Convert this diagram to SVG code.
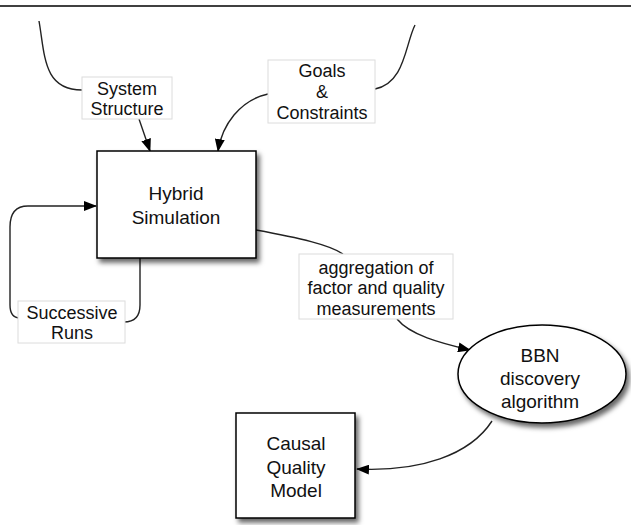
<svg xmlns="http://www.w3.org/2000/svg" width="631" height="525" viewBox="0 0 631 525">
<style>
.node{fill:#fff;stroke:#000;stroke-width:1.5;filter:url(#sh)}
.lbl{fill:#fff;stroke:#dcdcdc;stroke-width:1}
.conn{fill:none;stroke:#222;stroke-width:1.4}
.t{font-family:"Liberation Sans",Arial,sans-serif;font-size:19px;fill:#111;text-anchor:middle}
.tl{font-family:"Liberation Sans",Arial,sans-serif;font-size:18px;fill:#111;text-anchor:middle}
</style>
<defs>
<filter id="sh" x="-20%" y="-20%" width="150%" height="150%">
<feDropShadow dx="3" dy="4" stdDeviation="2.5" flood-color="#000" flood-opacity="0.6"/>
</filter>
<marker id="arr" markerWidth="13" markerHeight="10" refX="12" refY="5" orient="auto" markerUnits="userSpaceOnUse">
<path d="M0,0 L13,5 L0,10 z" fill="#000"/>
</marker>
</defs>
<line x1="0" y1="6" x2="631" y2="6" stroke="#000" stroke-width="1.5"/>
<g id="connectors">
<path class="conn" d="M39,21 C45,55 43,90 82,90"/>
<path class="conn" d="M375,89 C405,83 405,45 415,25"/>
<path class="conn" d="M139,119 L150,151" marker-end="url(#arr)"/>
<path class="conn" d="M268,94 C240,100 222,125 218,151" marker-end="url(#arr)"/>
<path class="conn" d="M140,258 L140,305 Q140,322 124,322 L70,320 L20,318 Q10,318 10,305 L10,227 Q10,206 28,206 L96,206" marker-end="url(#arr)"/>
<path class="conn" d="M256,230 C300,238 330,245 343,254"/>
<path class="conn" d="M397,319 C410,335 440,343 470,350" marker-end="url(#arr)"/>
<path class="conn" d="M492,421 C470,455 420,472 357,469" marker-end="url(#arr)"/>
</g>
<g id="system-structure">
<rect class="lbl" x="82" y="77" width="90" height="42"/>
<text class="tl" x="127" y="94.5">System</text>
<text class="tl" x="127" y="115">Structure</text>
</g>
<g id="goals-constraints">
<rect class="lbl" x="268" y="60" width="107" height="63"/>
<text class="tl" x="322" y="77">Goals</text>
<text class="tl" x="322" y="98">&amp;</text>
<text class="tl" x="322" y="118.5">Constraints</text>
</g>
<g id="hybrid-simulation">
<rect class="node" x="97" y="151" width="159" height="107"/>
<text class="t" x="176" y="200">Hybrid</text>
<text class="t" x="176" y="224">Simulation</text>
</g>
<g id="successive-runs">
<rect class="lbl" x="18" y="301" width="107" height="42"/>
<text class="tl" x="72" y="318.5">Successive</text>
<text class="tl" x="72" y="339">Runs</text>
</g>
<g id="aggregation">
<rect class="lbl" x="299" y="254" width="154" height="65"/>
<text class="tl" x="376" y="273.5">aggregation of</text>
<text class="tl" x="376" y="294">factor and quality</text>
<text class="tl" x="376" y="314.5">measurements</text>
</g>
<g id="bbn">
<ellipse class="node" cx="542" cy="374" rx="84" ry="49"/>
<text class="t" x="540" y="362">BBN</text>
<text class="t" x="540" y="385">discovery</text>
<text class="t" x="540" y="408">algorithm</text>
</g>
<g id="causal-quality-model">
<rect class="node" x="236" y="413" width="119" height="105"/>
<text class="t" x="296" y="450">Causal</text>
<text class="t" x="296" y="474">Quality</text>
<text class="t" x="296" y="497">Model</text>
</g>
</svg>
